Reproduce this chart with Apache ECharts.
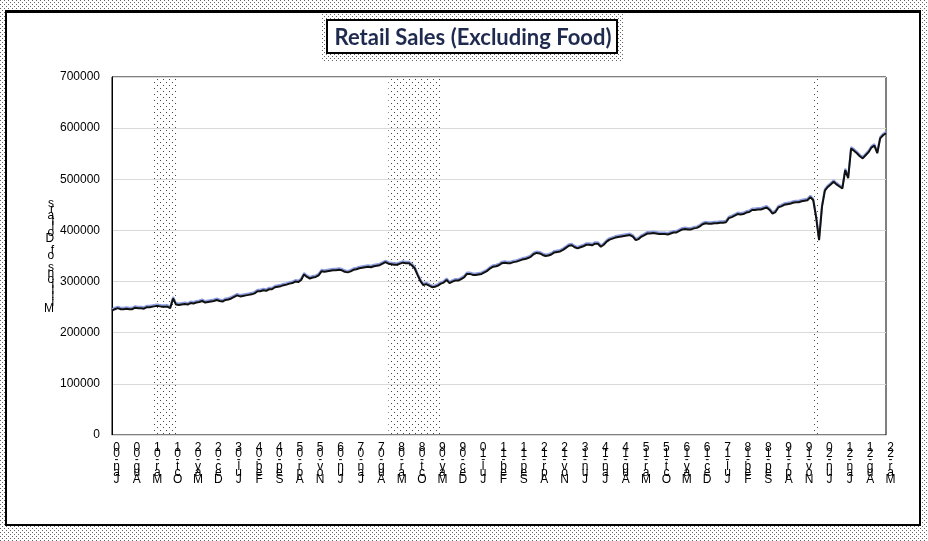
<!DOCTYPE html>
<html>
<head>
<meta charset="utf-8">
<script src="https://cdn.jsdelivr.net/npm/echarts@6/dist/echarts.min.js"></script>
<style>
  html, body { margin: 0; padding: 0; background: #fff; }
  #chart { width: 928px; height: 541px; }
</style>
</head>
<body>
<div id="chart"></div>
<script>
// monthly retail sales excluding food, millions of dollars, Jan-00 .. Mar-22
const retailSales = [
  243000, 246000, 248000, 246000, 246000, 247000, 246000, 246000, 249000, 248000, 248000, 247000, // 2000
  250000, 250000, 251000, 252000, 252000, 251000, 251000, 251000, 248000, 267000, 255000, 254000, // 2001
  255000, 256000, 255000, 258000, 257000, 259000, 260000, 262000, 259000, 260000, 261000, 262000, // 2002
  264000, 262000, 261000, 264000, 265000, 267000, 270000, 273000, 271000, 272000, 273000, 274000, // 2003
  275000, 277000, 281000, 281000, 283000, 282000, 285000, 285000, 289000, 290000, 291000, 293000, // 2004
  294000, 296000, 297000, 300000, 299000, 303000, 314000, 309000, 306000, 308000, 309000, 312000, // 2005
  320000, 319000, 320000, 321000, 322000, 322000, 323000, 322000, 319000, 318000, 320000, 323000, // 2006
  324000, 326000, 327000, 328000, 329000, 328000, 330000, 331000, 332000, 335000, 338000, 335000, // 2007
  334000, 333000, 333000, 335000, 337000, 336000, 336000, 332000, 326000, 313000, 301000, 293000, // 2008
  295000, 292000, 289000, 290000, 292000, 296000, 298000, 303000, 297000, 300000, 302000, 302000, // 2009
  305000, 308000, 315000, 315000, 313000, 313000, 314000, 315000, 318000, 321000, 326000, 329000, // 2010
  330000, 332000, 336000, 337000, 336000, 336000, 338000, 339000, 341000, 343000, 344000, 346000, // 2011
  349000, 354000, 356000, 355000, 352000, 350000, 351000, 353000, 357000, 358000, 359000, 362000, // 2012
  366000, 370000, 371000, 367000, 365000, 367000, 369000, 372000, 372000, 371000, 374000, 374000, // 2013
  368000, 372000, 378000, 382000, 384000, 386000, 387000, 388000, 389000, 390000, 391000, 388000, // 2014
  381000, 383000, 388000, 391000, 394000, 394000, 395000, 394000, 393000, 393000, 393000, 392000, // 2015
  394000, 396000, 396000, 399000, 402000, 403000, 402000, 402000, 404000, 405000, 408000, 412000, // 2016
  414000, 413000, 413000, 414000, 414000, 415000, 415000, 416000, 424000, 426000, 429000, 432000, // 2017
  431000, 432000, 435000, 436000, 440000, 440000, 441000, 441000, 443000, 445000, 440000, 433000, // 2018
  436000, 445000, 447000, 450000, 451000, 452000, 454000, 455000, 455000, 457000, 458000, 459000, // 2019
  465000, 459000, 425000, 381000, 446000, 478000, 485000, 490000, 495000, 490000, 486000, 482000, // 2020
  518000, 502000, 560000, 556000, 551000, 545000, 541000, 547000, 553000, 562000, 566000, 551000, // 2021
  580000, 586000, 590000 // 2022
];

const monthNames = ['Jan', 'Feb', 'Mar', 'Apr', 'May', 'Jun', 'Jul', 'Aug', 'Sep', 'Oct', 'Nov', 'Dec'];
const firstYear = 2000;
const categories = retailSales.map((v, i) => {
  const yy = String((firstYear + Math.floor(i / 12)) % 100).padStart(2, '0');
  return monthNames[i % 12] + '-' + yy;
});

const recessionStarts = ['Mar-01', 'Dec-07', 'Feb-20'];
const recessionEnds = ['Nov-01', 'Jun-09', 'Apr-20'];

const yTicks = { min: 0, max: 700000, step: 100000 };
const chartTitle = 'Retail Sales (Excluding Food)';
const yAxisTitle = 'Millions of Dollars';

// small dot pattern used for recession bands and the frame shadow
function dotPattern(color, w, h, dots) {
  const c = document.createElement('canvas');
  c.width = w;
  c.height = h;
  const ctx = c.getContext('2d');
  ctx.fillStyle = color;
  dots.forEach(d => ctx.fillRect(d[0], d[1], 1, 1));
  return c;
}
const bandDots = dotPattern('#444', 6, 6, [[1, 1], [4, 4]]);
const frameDots = dotPattern('#666', 4, 4, [[0, 0], [2, 2]]);

// the reference prints rotated labels as stacked, reversed characters
function stacked(s) {
  return s.split('').reverse().join('\n');
}

const chart = echarts.init(document.getElementById('chart'));

chart.setOption({
  animation: false,
  backgroundColor: '#fff',
  graphic: [
    { type: 'rect', z: -10, shape: { x: 0, y: 0, width: 928, height: 541 },
      style: { fill: { type: 'pattern', image: frameDots, repeat: 'repeat' } } },
    { type: 'rect', z: -9, shape: { x: 6, y: 11, width: 914, height: 514 },
      style: { fill: '#fff', stroke: '#000', lineWidth: 2 } },
    { type: 'rect', z: -9, shape: { x: 6, y: 10, width: 914, height: 3 },
      style: { fill: '#000' } },
    { type: 'rect', z: -8, shape: { x: 321, y: 14, width: 303, height: 47 },
      style: { fill: { type: 'pattern', image: frameDots, repeat: 'repeat' } } },
    { type: 'rect', z: -7, shape: { x: 327, y: 20, width: 290, height: 33 },
      style: { fill: '#fff', stroke: '#000', lineWidth: 2 } }
  ],
  title: {
    text: chartTitle,
    left: 468,
    top: 22,
    textAlign: 'center',
    textStyle: {
      fontFamily: 'Lato',
      fontSize: 22,
      fontWeight: 'bold',
      color: '#1f2a4f'
    }
  },
  grid: {
    left: 112,
    right: 42,
    top: 77,
    bottom: 106,
    show: true,
    borderColor: '#000',
    borderWidth: 1,
    backgroundColor: 'transparent'
  },
  xAxis: {
    type: 'category',
    data: categories,
    boundaryGap: false,
    axisLine: { lineStyle: { color: '#d9d9d9' } },
    axisTick: { show: false },
    axisLabel: {
      interval: 6,
      showMinLabel: true,
      showMaxLabel: true,
      hideOverlap: false,
      margin: 9,
      padding: [0, 0, 0, 9],
      fontFamily: 'Liberation Sans',
      fontSize: 12,
      lineHeight: 6.4,
      color: '#000',
      formatter: stacked
    },
    splitLine: { show: false }
  },
  yAxis: {
    type: 'value',
    min: yTicks.min,
    max: yTicks.max,
    interval: yTicks.step,
    name: stacked(yAxisTitle),
    nameLocation: 'middle',
    nameGap: 57,
    nameRotate: 0,
    nameTextStyle: {
      fontFamily: 'Liberation Sans',
      fontSize: 12,
      lineHeight: 5.8,
      color: '#000'
    },
    axisLine: { show: true, lineStyle: { color: '#000' } },
    axisTick: { show: false },
    axisLabel: {
      margin: 12,
      fontFamily: 'Liberation Sans',
      fontSize: 12,
      color: '#000',
      formatter: v => String(v)
    },
    splitLine: { lineStyle: { color: '#d9d9d9' } }
  },
  series: [{
    name: 'Retail Sales',
    type: 'line',
    data: retailSales,
    symbol: 'none',
    lineStyle: {
      color: '#111',
      width: 2,
      shadowColor: '#8c9ee0',
      shadowBlur: 0,
      shadowOffsetY: -1.5
    },
    markArea: {
      silent: true,
      itemStyle: {
        color: { type: 'pattern', image: bandDots, repeat: 'repeat' }
      },
      data: recessionStarts.map((s, k) => [{ xAxis: s }, { xAxis: recessionEnds[k] }])
    }
  }]
});
</script>
</body>
</html>
